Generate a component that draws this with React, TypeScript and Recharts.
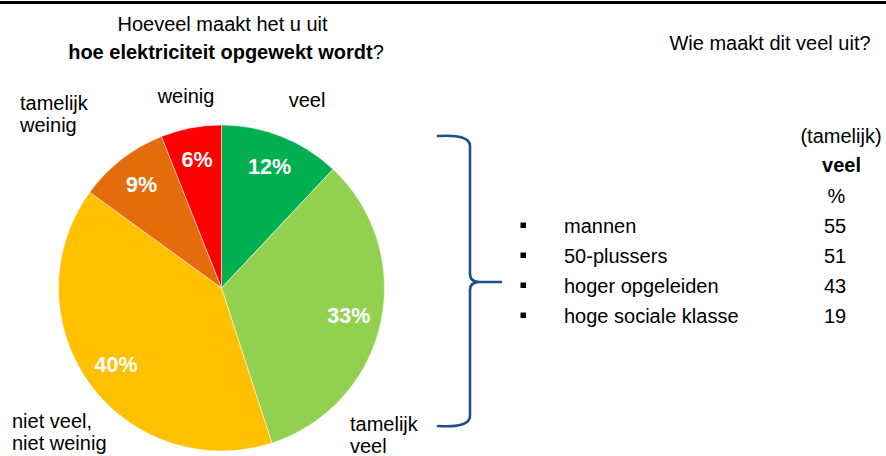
import React from 'react';
import { PieChart, Pie, Cell } from 'recharts';

// verdeling antwoorden (in %)
const categories = ['veel', 'tamelijk veel', 'niet veel, niet weinig', 'tamelijk weinig', 'weinig'];
const shares = [12, 33, 40, 9, 6];
const sliceColors = ['#00B050', '#92D050', '#FFC000', '#E46C0A', '#FF0000'];

// wie maakt dit (tamelijk) veel uit
const groups = ['mannen', '50-plussers', 'hoger opgeleiden', 'hoge sociale klasse'];
const groupValues = [55, 51, 43, 19];

const FONT = '"Liberation Sans", Arial, Helvetica, sans-serif';
const RADIAN = Math.PI / 180;

const pieData = categories.map((name, i) => ({ name, value: shares[i] }));

const renderPercent = (props: any) => {
    const { cx, cy, midAngle, outerRadius, value } = props;
    const r = outerRadius * 0.8;
    const x = cx + r * Math.cos(-midAngle * RADIAN);
    const y = cy + r * Math.sin(-midAngle * RADIAN);
    return (
        <text x={x} y={y} fill="#fff" textAnchor="middle" dominantBaseline="central"
            fontFamily={FONT} fontSize={21.5} fontWeight="bold">
            {`${value}%`}
        </text>
    );
};

// plaats van de categorienamen rond de taart
const nameSpots: Record<string, { x: number; y: number; anchor: 'start' | 'middle'; lines: string[] }> = {
    'veel': { x: 307, y: 107, anchor: 'middle', lines: ['veel'] },
    'tamelijk veel': { x: 350, y: 431, anchor: 'start', lines: ['tamelijk', 'veel'] },
    'niet veel, niet weinig': { x: 12, y: 428, anchor: 'start', lines: ['niet veel,', 'niet weinig'] },
    'tamelijk weinig': { x: 20, y: 110, anchor: 'start', lines: ['tamelijk', 'weinig'] },
    'weinig': { x: 186, y: 103, anchor: 'middle', lines: ['weinig'] },
};

const App: React.FC = () => {
    const txt = { fontFamily: FONT, fontSize: 20, fill: '#000' };
    return (
        <div style={{ position: 'absolute', left: 0, top: 0, width: 886, height: 456, background: '#fff' }}>
            <PieChart width={886} height={456} margin={{ top: 0, right: 0, bottom: 0, left: 0 }}
                style={{ position: 'absolute', left: 0, top: 0 }}>
                <Pie
                    data={pieData}
                    dataKey="value"
                    nameKey="name"
                    cx={221.5}
                    cy={288}
                    outerRadius={163}
                    startAngle={90}
                    endAngle={-270}
                    stroke="#fff"
                    strokeWidth={0.5}
                    label={renderPercent}
                    labelLine={false}
                    isAnimationActive={false}
                >
                    {pieData.map((d, i) => (
                        <Cell key={d.name} fill={sliceColors[i]} />
                    ))}
                </Pie>
            </PieChart>
            <svg width={886} height={456} style={{ position: 'absolute', left: 0, top: 0, pointerEvents: 'none' }}>
                <rect x={0} y={1} width={886} height={3} fill="#000" />
                <text x={222.5} y={31} textAnchor="middle" {...txt}>Hoeveel maakt het u uit</text>
                <text x={226} y={59} textAnchor="middle" {...txt}>
                    <tspan fontWeight="bold">hoe elektriciteit opgewekt wordt</tspan>
                    <tspan>?</tspan>
                </text>
                {categories.map(c => {
                    const s = nameSpots[c];
                    return (
                        <text key={c} x={s.x} y={s.y} textAnchor={s.anchor} {...txt}>
                            {s.lines.map((l, j) => (
                                <tspan key={j} x={s.x} dy={j === 0 ? 0 : 22}>{l}</tspan>
                            ))}
                        </text>
                    );
                })}

                <text x={770} y={50} textAnchor="middle" {...txt}>Wie maakt dit veel uit?</text>

                <path
                    d="M438,136 Q470,134 470,146 L470,274 Q470,282 480,282 L501,282 M480,282 Q470,282 470,290 L470,416 Q470,428 438,426"
                    fill="none" stroke="#1F4E89" strokeWidth={2.6} strokeLinecap="round" strokeLinejoin="round"
                />

                <text x={841} y={143} textAnchor="middle" {...txt}>(tamelijk)</text>
                <text x={841.5} y={172} textAnchor="middle" {...txt} fontWeight="bold">veel</text>
                <text x={836.5} y={203} textAnchor="middle" {...txt}>%</text>
                {groups.map((g, i) => (
                    <g key={g}>
                        <rect x={520.5} y={222.5 + i * 30} width={5.5} height={5.5} fill="#000" />
                        <text x={564} y={233 + i * 30} {...txt}>{g}</text>
                        <text x={835} y={233 + i * 30} textAnchor="middle" {...txt}>{groupValues[i]}</text>
                    </g>
                ))}
            </svg>
        </div>
    );
};

export default App;
